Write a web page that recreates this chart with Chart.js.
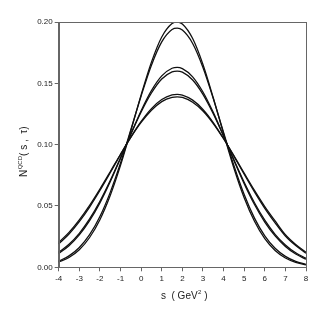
<!DOCTYPE html>
<html>
<head>
<meta charset="utf-8">
<script src="https://cdn.jsdelivr.net/npm/chart.js@4"></script>
<style>
  html, body { margin: 0; padding: 0; background: #fff; }
  #wrap { width: 329px; height: 316px; }
</style>
</head>
<body>
<div id="wrap"><canvas id="c" width="329" height="316"></canvas></div>
<script>
// s values (GeV^2)
const sValues = [-4, -3.5, -3, -2.5, -2, -1.5, -1, -0.5, 0, 0.5, 1, 1.5, 1.75, 2, 2.5, 3, 3.5, 4, 4.5, 5, 5.5, 6, 6.5, 7, 7.5, 8];

// N^QCD(s, tau): three pairs of curves
const curve1a = [0.0042, 0.0080, 0.0143, 0.0243, 0.0388, 0.0585, 0.0831, 0.1113, 0.1406, 0.1673, 0.1878, 0.1988, 0.2000, 0.1983, 0.1865, 0.1654, 0.1382, 0.1090, 0.0810, 0.0567, 0.0375, 0.0233, 0.0137, 0.0076, 0.0040, 0.0019];
const curve1b = [0.0050, 0.0093, 0.0162, 0.0266, 0.0414, 0.0611, 0.0850, 0.1121, 0.1397, 0.1648, 0.1838, 0.1939, 0.1950, 0.1934, 0.1825, 0.1629, 0.1376, 0.1099, 0.0830, 0.0593, 0.0401, 0.0256, 0.0155, 0.0089, 0.0048, 0.0024];
const curve2a = [0.0113, 0.0176, 0.0264, 0.0380, 0.0525, 0.0697, 0.0889, 0.1087, 0.1277, 0.1441, 0.1561, 0.1623, 0.1630, 0.1620, 0.1553, 0.1429, 0.1263, 0.1071, 0.0873, 0.0682, 0.0512, 0.0369, 0.0256, 0.0170, 0.0108, 0.0066];
const curve2b = [0.0122, 0.0188, 0.0277, 0.0394, 0.0538, 0.0707, 0.0893, 0.1084, 0.1266, 0.1421, 0.1535, 0.1593, 0.1600, 0.1591, 0.1527, 0.1410, 0.1252, 0.1069, 0.0877, 0.0693, 0.0526, 0.0384, 0.0269, 0.0182, 0.0118, 0.0074];
const curve3a = [0.0190, 0.0271, 0.0372, 0.0491, 0.0626, 0.0771, 0.0919, 0.1061, 0.1189, 0.1294, 0.1368, 0.1406, 0.1410, 0.1404, 0.1363, 0.1287, 0.1180, 0.1050, 0.0907, 0.0759, 0.0615, 0.0481, 0.0363, 0.0255, 0.0177, 0.0115];
const curve3b = [0.0203, 0.0285, 0.0387, 0.0505, 0.0638, 0.0779, 0.0922, 0.1059, 0.1181, 0.1280, 0.1351, 0.1386, 0.1390, 0.1385, 0.1346, 0.1274, 0.1172, 0.1048, 0.0911, 0.0768, 0.0627, 0.0495, 0.0378, 0.0266, 0.0186, 0.0122];

const allCurves = [curve1a, curve1b, curve2a, curve2b, curve3a, curve3b];

const xTicks = [-4, -3, -2, -1, 0, 1, 2, 3, 4, 5, 6, 7, 8];
const yTicks = [0, 0.05, 0.10, 0.15, 0.20];

const axisColor = '#666';
const font = { family: 'Liberation Sans, Arial, sans-serif', size: 8 };

// frame + axis titles with superscripts
const decor = {
    id: 'decor',
    afterDraw(chart) {
        const ctx = chart.ctx;
        const a = chart.chartArea;
        ctx.save();
        ctx.strokeStyle = axisColor;
        ctx.lineWidth = 1;
        ctx.strokeRect(Math.round(a.left) + 0.5, Math.round(a.top) + 0.5, Math.round(a.right - a.left), Math.round(a.bottom - a.top));

        ctx.fillStyle = '#222';
        ctx.textBaseline = 'alphabetic';
        // x title
        const big = '10px Liberation Sans, Arial, sans-serif';
        const small = '6px Liberation Sans, Arial, sans-serif';
        const p1 = 's  ( GeV', p2 = ' )';
        ctx.font = big; const w1 = ctx.measureText(p1).width; const w3 = ctx.measureText(p2).width;
        ctx.font = small; const w2 = ctx.measureText('2').width;
        let x = 184 - (w1 + w2 + w3) / 2;
        const y = 299;
        ctx.font = big; ctx.fillText(p1, x, y); x += w1;
        ctx.font = small; ctx.fillText('2', x + 0.5, y - 5); x += w2 + 0.5;
        ctx.font = big; ctx.fillText(p2, x, y);

        // y title, rotated
        ctx.translate(27, 152);
        ctx.rotate(-Math.PI / 2);
        const q1 = 'N', q2 = 'QCD', q3 = '( s ,  \u03C4)';
        ctx.font = big; const v1 = ctx.measureText(q1).width; const v3 = ctx.measureText(q3).width;
        ctx.font = small; const v2 = ctx.measureText(q2).width;
        let t = -(v1 + v2 + v3) / 2;
        ctx.font = big; ctx.fillText(q1, t, 0); t += v1 + 0.5;
        ctx.font = small; ctx.fillText(q2, t, -5); t += v2;
        ctx.font = big; ctx.fillText(q3, t, 0);
        ctx.restore();
    }
};

new Chart(document.getElementById('c'), {
    type: 'line',
    data: {
        datasets: allCurves.map(vals => ({
            data: sValues.map((s, i) => ({ x: s, y: vals[i] })),
            borderColor: '#111',
            borderWidth: 1.3,
            pointRadius: 0,
            fill: false,
            cubicInterpolationMode: 'monotone'
        }))
    },
    options: {
        responsive: false,
        animation: false,
        layout: { padding: { top: 22, right: 23, left: 0, bottom: 0 } },
        plugins: { legend: { display: false }, tooltip: { enabled: false } },
        scales: {
            x: {
                type: 'linear',
                min: -4,
                max: 8,
                afterFit: s => { s.height = 48.7; },
                afterBuildTicks: s => { s.ticks = xTicks.map(v => ({ value: v })); },
                ticks: { font: font, color: '#222', padding: 3, callback: v => String(v) },
                grid: { drawOnChartArea: false, tickLength: 4, color: axisColor },
                border: { color: axisColor }
            },
            y: {
                type: 'linear',
                min: 0,
                max: 0.2,
                afterFit: s => { s.width = 58.7; },
                afterBuildTicks: s => { s.ticks = yTicks.map(v => ({ value: v })); },
                ticks: { font: font, color: '#222', padding: 2, callback: v => v.toFixed(2) },
                grid: { drawOnChartArea: false, tickLength: 4, color: axisColor },
                border: { color: axisColor }
            }
        }
    },
    plugins: [decor]
});
</script>
</body>
</html>
